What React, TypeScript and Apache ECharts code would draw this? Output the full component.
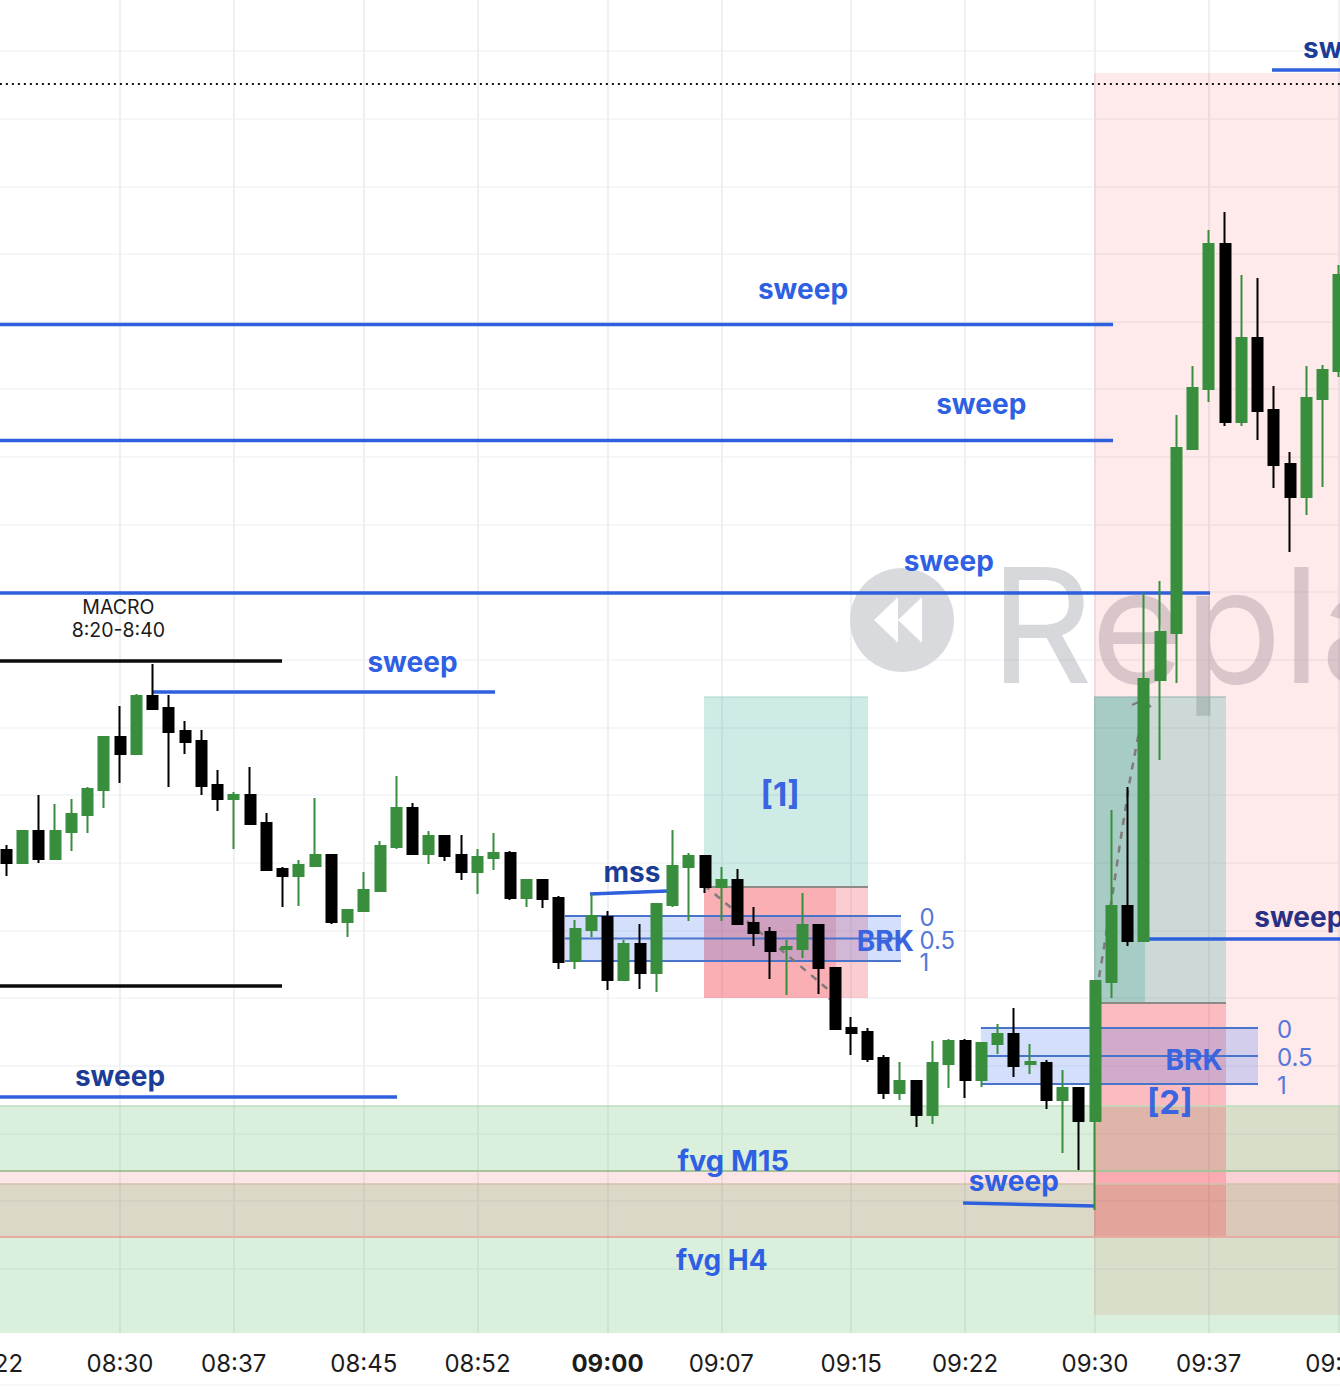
import React, { useEffect, useRef } from "react";
import * as echarts from "echarts";

const minutes: string[] = [];
for (let h = 8, m = 22; h < 9 || m <= 45; ) {
  minutes.push(`${String(h).padStart(2, "0")}:${String(m).padStart(2, "0")}`);
  m++;
  if (m === 60) { m = 0; h++; }
}
const tickLabels = ["08:22", "08:30", "08:37", "08:45", "08:52", "09:00", "09:07", "09:15", "09:22", "09:30", "09:37", "09:45"];

// open, close, low, high (one row per minute from 08:22)
const candles: number[][] = [
  [493,483,475,498],[483,470,457,488],[470,502,470,503],[502,474,470,538],[474,502,474,529],[501,519,482,534],
  [518,544,500,546],[543,596,525,596],[596,579,550,627],[579,637,579,639],[637,624,623,669],[625,601,546,638],
  [602,591,579,612],[592,547,538,603],[548,534,522,563],[534,538,484,541],[538,509,509,566],[510,463,463,520],
  [464,457,426,466],[457,468,427,473],[467,478,466,535],[478,411,409,478],[411,423,396,423],[422,443,422,461],
  [442,487,442,492],[486,525,484,557],[525,479,479,530],[479,497,469,502],[497,477,472,497],[478,461,453,498],
  [461,476,439,484],[475,480,463,500],[480,435,433,482],[435,453,426,453],[453,434,425,454],[435,371,364,437],
  [372,404,364,413],[403,417,396,439],[416,353,343,422],[353,389,353,393],[389,360,344,409],[360,429,341,429],
  [428,467,426,503],[466,477,412,480],[477,446,440,477],[446,453,412,466],[453,409,409,464],[410,400,387,426],
  [401,382,354,406],[384,386,338,393],[384,408,375,440],[408,365,339,409],[365,304,304,365],[305,300,278,316],
  [301,274,271,305],[275,240,234,278],[240,252,233,271],[252,218,206,253],[218,270,209,292],[269,292,245,294],
  [292,253,235,294],[253,290,246,290],[289,299,279,309],[299,267,256,325],[269,271,259,289],[270,233,224,273],
  [233,245,180,263],[245,212,163,245],[212,352,123,352],[351,427,335,523],[427,392,387,546],[392,654,392,740],
  [653,701,573,752],[700,885,650,918],[884,945,884,967],[944,1089,931,1103],[1089,911,907,1121],[911,995,907,1058],
  [995,922,893,1055],[923,868,845,947],[869,836,781,881],[836,935,818,967],[934,963,846,968],[962,1058,956,1068],
];

const gridPrices = [1282,1214.4,1146.7,1079,1011.4,944,876,808.5,741,673,605.5,538,470,402.5,335,267,199.6,132,64.3];

// zones: minute from, minute to, price from, price to, fill
const BG_PINK = "rgba(242,54,69,0.11)";
const FVG_GREEN = "rgba(60,175,70,0.19)";
const FVG_PINK = "rgba(242,54,69,0.13)";
const TEAL = "rgba(8,153,129,0.2)";
const RED = "rgba(242,54,69,0.25)";
const RED2 = "rgba(242,54,69,0.2)";
const BLUEBOX = "rgba(50,110,235,0.21)";
const zones: [number, number, number, number, string][] = [
  [59.94, 75.5, 1260, 18, BG_PINK],
  [-8.5, 75.5, 227, 162, FVG_GREEN],
  [-8.5, 75.5, 149, 0, FVG_GREEN],
  [-8.5, 75.5, 162, 96, FVG_PINK],
  [35.94, 46.03, 636, 446, TEAL],
  [35.94, 46.03, 446, 335, RED],
  [35.94, 44.06, 446, 335, RED2],
  [59.94, 68.06, 636, 330, TEAL],
  [59.94, 63.08, 636, 330, TEAL],
  [59.94, 68.06, 330, 96, RED],
  [27.38, 48.06, 417, 372, BLUEBOX],
  [52.98, 70.03, 305, 249, BLUEBOX],
];

const BLUE = "#2e5fdc";
const LEVEL = "#4a74c9";
const ARROW = "#7f7b7b";
// segments: minute a, price a, minute b, price b, colour, width
const segments: [number, number, number, number, string, number][] = [
  [-8.5, 227, 75.5, 227, "#bcdcbc", 1.5],
  [-8.5, 162, 75.5, 162, "#a6c49a", 2],
  [-8.5, 149, 75.5, 149, "#cfc3ae", 1.5],
  [-8.5, 96, 75.5, 96, "#e6aca2", 2],
  [35.94, 636, 46.03, 636, "#a9d6cc", 1],
  [59.94, 636, 68.06, 636, "#8fb3ac", 1],
  [35.94, 446, 46.03, 446, "#8c8a84", 2],
  [59.94, 330, 68.06, 330, "#8c8a84", 2],
  [27.38, 417, 48.06, 417, LEVEL, 2],
  [27.38, 394.5, 48.06, 394.5, LEVEL, 2],
  [27.38, 372, 48.06, 372, LEVEL, 2],
  [52.98, 305, 70.03, 305, LEVEL, 2],
  [52.98, 277, 70.03, 277, LEVEL, 2],
  [52.98, 249, 70.03, 249, LEVEL, 2],
  [-8.5, 672, 9.97, 672, "#0b0b0b", 3.5],
  [-8.5, 347, 9.97, 347, "#0b0b0b", 3.5],
  [-8.5, 1008.5, 61.11, 1008.5, BLUE, 3.5],
  [-8.5, 892.5, 61.11, 892.5, BLUE, 3.5],
  [-8.5, 740, 67.08, 740, BLUE, 3.5],
  [1.97, 641, 23.08, 641, BLUE, 3.5],
  [-8.5, 236, 17.05, 236, BLUE, 3.5],
  [70.89, 1263, 75.5, 1263, BLUE, 3.5],
  [28.92, 439, 33.66, 442, BLUE, 3.5],
  [51.88, 130, 60, 127, BLUE, 3.5],
  [63.08, 394, 75.5, 394, BLUE, 3.5],
  [62.28, 628, 62.95, 633, ARROW, 2],
  [63.45, 626, 62.95, 633, ARROW, 2],
  [43.6, 334, 44.2, 335, ARROW, 2],
  [44.0, 343, 44.2, 335, ARROW, 2],
];

const dashedA: number[][] = [[35.94, 448], [44.2, 335]];
const dashedB: number[][] = [[60.25, 356], [60.5, 380], [61.12, 443], [61.54, 490], [62.15, 553], [62.65, 596], [62.95, 633]];
const dottedLine: number[][] = [[-8.5, 1249], [75.5, 1249]];

const NAVY = "#1c3d96";
const INDIGO = "#2a3185";
const BRIGHT = "#2f5fe3";
const SOFT = "#5578d8";
// labels: text, minute, price, colour, font, align
const BOLD = "700 28px Inter";
const BRACKET = "700 33px Inter";
const THIN = "400 24px Inter";
const MACRO = "400 19.5px Inter";
const labels: [string, number, number, string, string, string][] = [
  ["sweep", 42.03, 1044, BRIGHT, BOLD, "center"],
  ["sweep", 53, 929, BRIGHT, BOLD, "center"],
  ["sweep", 51, 772, BRIGHT, BOLD, "center"],
  ["sweep", 18, 671, BRIGHT, BOLD, "center"],
  ["sweep", 0, 257, NAVY, BOLD, "center"],
  ["sweep", 55, 152, BRIGHT, BOLD, "center"],
  ["sweep", 69.8, 416, INDIGO, BOLD, "left"],
  ["sweep", 72.8, 1285, NAVY, BOLD, "left"],
  ["mss", 31.5, 461, NAVY, BOLD, "center"],
  ["[1]", 40.62, 539, "#3a64e0", BRACKET, "center"],
  ["[2]", 64.6, 231, "#3a64e0", BRACKET, "center"],
  ["BRK", 47.1, 392, "#3a64e0", BOLD, "center"],
  ["BRK", 66.1, 273, "#3a64e0", BOLD, "center"],
  ["fvg M15", 37.74, 173, BRIGHT, "700 29px Inter", "center"],
  ["fvg H4", 37.04, 73, BRIGHT, BOLD, "center"],
  ["0", 49.2, 416, SOFT, THIN, "left"],
  ["0.5", 49.2, 393, SOFT, THIN, "left"],
  ["1", 49.2, 371, SOFT, THIN, "left"],
  ["0", 71.2, 304, SOFT, THIN, "left"],
  ["0.5", 71.2, 276, SOFT, THIN, "left"],
  ["1", 71.2, 248, SOFT, THIN, "left"],
  ["MACRO", -0.1, 726, "#1a1a1a", MACRO, "center"],
  ["8:20-8:40", -0.1, 703, "#1a1a1a", MACRO, "center"],
];

export default function App() {
  const ref = useRef<HTMLDivElement>(null);
  useEffect(() => {
    document.body.style.margin = "0";
    const chart = echarts.init(ref.current!, undefined, { renderer: "svg" });
    const showTick = (_: number, value: string) => tickLabels.includes(value);
    chart.setOption({
      animation: false,
      backgroundColor: "#ffffff",
      grid: { left: -18.125, width: 1365, top: 0, height: 1333, containLabel: false, outerBoundsMode: "none" },
      xAxis: [
        {
          type: "category",
          data: minutes,
          boundaryGap: true,
          axisLine: { show: false },
          axisTick: { show: false, alignWithLabel: true, interval: showTick },
          splitLine: { show: true, alignWithLabel: true, interval: showTick, lineStyle: { color: "#eff0f2", width: 2 } },
          axisLabel: {
            interval: showTick,
            margin: 18,
            color: "#1c1c1c",
            fontFamily: "Inter",
            fontSize: 24,
            formatter: (v: string) => (v === "09:00" ? `{b|${v}}` : v),
            rich: { b: { fontFamily: "Inter", fontSize: 24, fontWeight: 700, color: "#1c1c1c" } },
          },
        },
        { type: "value", show: false, min: -8.5, max: 75.5, splitLine: { show: false } },
      ],
      yAxis: {
        type: "value",
        min: 0,
        max: 1333,
        axisLine: { show: false },
        axisLabel: { show: false },
        axisTick: { show: false, customValues: gridPrices },
        splitLine: { show: true, lineStyle: { color: "#f2f3f4", width: 1.5 } },
      },
      graphic: [
        { type: "circle", z: 1, shape: { cx: 902, cy: 620, r: 52 }, style: { fill: "#d8dadd" } },
        { type: "polygon", z: 1, shape: { points: [[874, 620], [898, 597], [898, 643]] }, style: { fill: "#ffffff" } },
        { type: "polygon", z: 1, shape: { points: [[898, 620], [922, 597], [922, 643]] }, style: { fill: "#ffffff" } },
        { type: "text", z: 1, x: 990, y: 705, style: { text: "Repla", font: "400 160px Inter", fill: "rgba(120,125,135,0.3)", verticalAlign: "bottom" } },
        { type: "line", z: 1, shape: { x1: 0, y1: 1385, x2: 1340, y2: 1385 }, style: { stroke: "#f1f1f3", lineWidth: 1 } },
      ],
      series: [
        {
          type: "custom",
          name: "zones",
          xAxisIndex: 1,
          z: 1,
          data: zones.map((z) => [z[0], z[2]]),
          renderItem: (p: any, api: any) => {
            const z = zones[p.dataIndex];
            const a = api.coord([z[0], z[2]]);
            const b = api.coord([z[1], z[3]]);
            return { type: "rect", shape: { x: a[0], y: a[1], width: b[0] - a[0], height: b[1] - a[1] }, style: { fill: z[4] } };
          },
        },
        {
          type: "custom",
          name: "segments",
          xAxisIndex: 1,
          z: 2,
          data: segments.map((s) => [s[0], s[1]]),
          renderItem: (p: any, api: any) => {
            const s = segments[p.dataIndex];
            const a = api.coord([s[0], s[1]]);
            const b = api.coord([s[2], s[3]]);
            return { type: "line", shape: { x1: a[0], y1: a[1], x2: b[0], y2: b[1] }, style: { stroke: s[4], lineWidth: s[5] } };
          },
        },
        { type: "line", name: "a", xAxisIndex: 1, z: 2, data: dashedA, showSymbol: false, symbol: "none", lineStyle: { color: ARROW, width: 2.5, type: [7, 7] } },
        { type: "line", name: "b", xAxisIndex: 1, z: 2, data: dashedB, showSymbol: false, symbol: "none", lineStyle: { color: ARROW, width: 2.5, type: [7, 7] } },
        { type: "line", name: "last", xAxisIndex: 1, z: 2, data: dottedLine, showSymbol: false, symbol: "none", lineStyle: { color: "#111111", width: 2, type: [2, 4] } },
        {
          type: "candlestick",
          name: "price",
          xAxisIndex: 0,
          z: 3,
          barWidth: 10.5,
          data: candles,
          itemStyle: { color: "#388e3c", color0: "#000000", borderColor: "#388e3c", borderColor0: "#000000", borderWidth: 2 },
        },
        {
          type: "custom",
          name: "labels",
          xAxisIndex: 1,
          z: 4,
          data: labels.map((l) => [l[1], l[2]]),
          renderItem: (p: any, api: any) => {
            const l = labels[p.dataIndex];
            const a = api.coord([l[1], l[2]]);
            return { type: "text", style: { x: a[0], y: a[1], text: l[0], fill: l[3], font: l[4], align: l[5], verticalAlign: "middle" } };
          },
        },
      ],
    });
    return () => chart.dispose();
  }, []);
  return <div ref={ref} style={{ width: 1340, height: 1392 }} />;
}
